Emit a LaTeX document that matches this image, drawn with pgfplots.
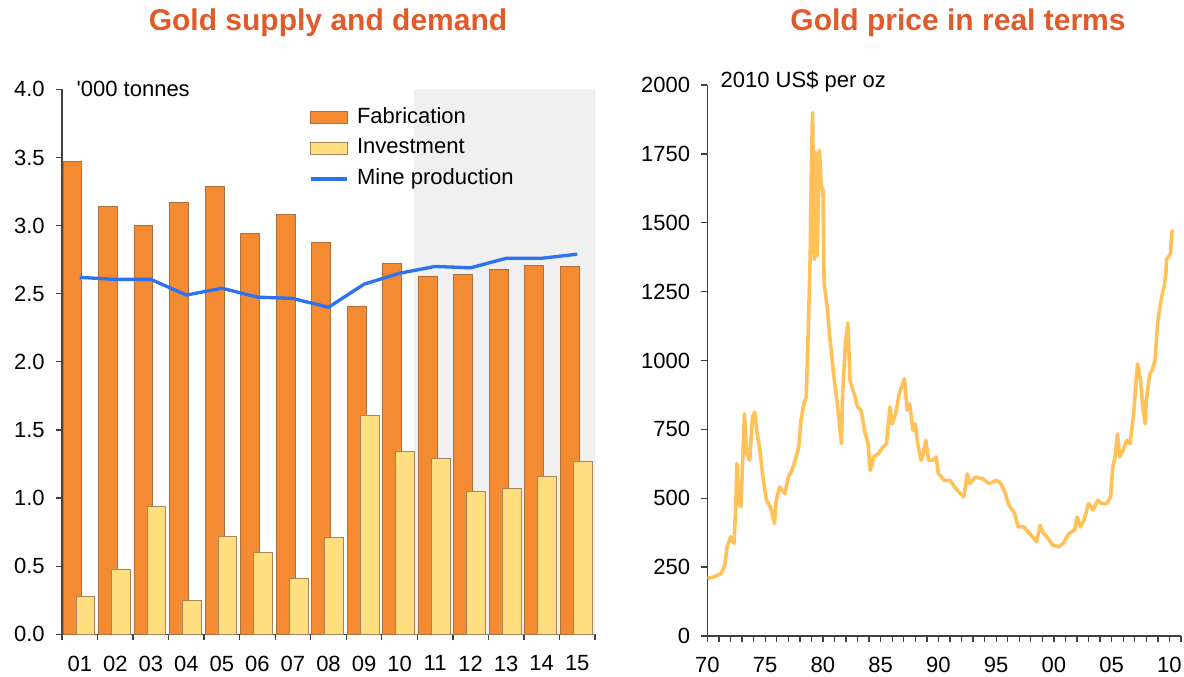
\documentclass[border=0pt]{standalone}
\usepackage{fontspec}
\setmainfont{Liberation Sans}
\usepackage{pgfplots}
\pgfplotsset{compat=1.18}
\definecolor{fab}{HTML}{F48A31}
\definecolor{fabedge}{HTML}{B0703C}
\definecolor{inv}{HTML}{FFDE80}
\definecolor{invedge}{HTML}{A8845A}
\definecolor{mine}{HTML}{2F72F0}
\definecolor{gold}{HTML}{FFC158}
\definecolor{shade}{HTML}{F0F0F0}
\definecolor{ttl}{HTML}{E05A2A}
\definecolor{axgray}{HTML}{404040}
\newcommand{\tk}{\fontsize{16.5}{19}\selectfont}

\pgfplotsset{
  common/.style={
    scale only axis, anchor=south west,
    axis x line*=bottom, axis y line*=left,
    axis line style={color=axgray, line width=1.1pt},
    tick style={color=axgray, line width=1pt},
    tick align=outside,
    major tick length=4.5pt, minor tick length=4.5pt,
    tick label style={font=\tk, text=black},
    xticklabel style={yshift=-8pt},
    yticklabel style={xshift=-5pt},
    /pgf/number format/assume math mode=true,
    clip=false,
  },
  barleg/.style={legend image code/.code={\draw[#1, line width=0.6pt] (0pt,-4.4pt) rectangle (27.5pt,4.4pt);}},
  lineleg/.style={legend image code/.code={\draw[#1] (0pt,0pt) -- (27.5pt,0pt);}},
}

\begin{document}
\begin{tikzpicture}
\useasboundingbox (0,0) rectangle (888pt,507.75pt);

% left panel: supply and demand
\begin{axis}[common,
  at={(46.5pt,32pt)}, width=399.75pt, height=408.75pt,
  xmin=0.5, xmax=15.5, ymin=0, ymax=4,
  xtick={1,...,15},
  xticklabels={01,02,03,04,05,06,07,08,09,10,11,12,13,14,15},
  major x tick style={draw=none},
  minor xtick={0.5,1.5,...,15.5},
  ytick={0,0.5,...,4},
  yticklabel style={/pgf/number format/.cd, fixed, fixed zerofill, precision=1},
  legend cell align=left,
  legend style={at={(0.463,0.97)}, anchor=north west, draw=none, fill=none,
    inner sep=0pt, row sep=5.5pt, column sep=4pt,
    nodes={inner xsep=2pt, inner ysep=1pt, text height=12pt, text depth=3.5pt, font=\tk}},
]
\addplot[fill=shade, draw=none, forget plot] coordinates
  {(10.4,0) (10.4,4) (15.5,4) (15.5,0)} \closedcycle;
\addplot[ybar, bar width=0.53, bar shift=-0.21, fill=fab, draw=fabedge, line width=0.5pt, barleg]
  coordinates {(1,3.47) (2,3.14) (3,3.00) (4,3.17) (5,3.29) (6,2.94) (7,3.08) (8,2.88)
    (9,2.41) (10,2.72) (11,2.63) (12,2.64) (13,2.68) (14,2.71) (15,2.70)};
\addlegendentry{Fabrication}
\addplot[ybar, bar width=0.53, bar shift=0.155, fill=inv, draw=invedge, line width=0.5pt, barleg]
  coordinates {(1,0.28) (2,0.48) (3,0.94) (4,0.25) (5,0.72) (6,0.60) (7,0.41) (8,0.71)
    (9,1.61) (10,1.34) (11,1.29) (12,1.05) (13,1.07) (14,1.16) (15,1.27)};
\addlegendentry{Investment}
\addplot[mine, line width=2.5pt, mark=none, lineleg]
  coordinates {(1,2.62) (2,2.605) (3,2.605) (4,2.49) (5,2.54) (6,2.475) (7,2.465) (8,2.40)
    (9,2.57) (10,2.65) (11,2.70) (12,2.69) (13,2.76) (14,2.76) (15,2.79)};
\addlegendentry{Mine production}
\node[anchor=west, font=\tk, xshift=7.5pt] at (axis cs:0.5,4) {\textquotesingle000 tonnes};
\end{axis}

% right panel: real gold price
\begin{axis}[common,
  at={(530.6pt,30.75pt)}, width=355.1pt, height=413.25pt,
  xmin=1970, xmax=2011, ymin=0, ymax=2000,
  xtick={1970,1975,...,2010},
  xticklabels={70,75,80,85,90,95,00,05,10},
  minor xtick={1970,1971,...,2011},
  ytick={0,250,...,2000},
  yticklabel style={/pgf/number format/1000 sep={}},
]
\addplot[gold, line width=2.7pt, mark=none, line join=round] coordinates {
  (1970.00,209) (1970.60,215) (1971.20,227) (1971.50,257) (1971.70,324) (1972.00,360)
  (1972.30,336) (1972.45,469) (1972.55,626) (1972.70,481) (1972.90,469) (1973.05,638)
  (1973.20,807) (1973.40,662) (1973.65,638) (1973.90,795) (1974.10,813) (1974.30,734)
  (1974.50,686) (1974.80,577) (1975.10,493) (1975.45,469) (1975.80,408) (1975.95,493)
  (1976.25,541) (1976.70,517) (1977.00,577) (1977.30,601) (1977.60,638) (1977.90,686)
  (1978.10,783) (1978.35,843) (1978.55,867) (1978.65,1000) (1978.75,1147) (1978.90,1390)
  (1979.00,1706) (1979.10,1900) (1979.25,1366) (1979.40,1755) (1979.50,1380) (1979.70,1762)
  (1979.85,1633) (1980.00,1620) (1980.10,1282) (1980.40,1184) (1980.55,1100) (1980.80,1000)
  (1980.95,940) (1981.25,843) (1981.45,758) (1981.60,698) (1981.70,879) (1981.95,1063)
  (1982.15,1136) (1982.35,928) (1982.70,879) (1983.00,831) (1983.30,819) (1983.60,746)
  (1983.90,698) (1984.10,601) (1984.40,650) (1984.80,662) (1985.20,686) (1985.50,698)
  (1985.80,831) (1986.00,770) (1986.30,807) (1986.60,879) (1986.90,915) (1987.05,934)
  (1987.30,819) (1987.50,843) (1987.80,746) (1988.00,770) (1988.20,698) (1988.50,638)
  (1988.70,662) (1988.90,710) (1989.15,638) (1989.50,638) (1989.80,650) (1990.00,589)
  (1990.50,565) (1991.00,565) (1991.40,541) (1991.90,517) (1992.20,505) (1992.50,589)
  (1992.70,553) (1993.20,577) (1993.80,571) (1994.40,553) (1995.00,565) (1995.30,559)
  (1995.70,529) (1996.10,475) (1996.60,444) (1996.90,396) (1997.40,396) (1997.90,372)
  (1998.50,342) (1998.80,402) (1999.10,372) (1999.40,360) (1999.90,330) (2000.40,324)
  (2000.80,336) (2001.30,372) (2001.80,384) (2002.00,432) (2002.30,396) (2002.60,420)
  (2003.00,481) (2003.40,457) (2003.80,493) (2004.10,481) (2004.60,481) (2004.90,505)
  (2005.10,614) (2005.30,650) (2005.50,734) (2005.70,650) (2006.00,674) (2006.30,710)
  (2006.60,698) (2006.90,807) (2007.10,915) (2007.25,988) (2007.50,928) (2007.70,831)
  (2007.90,770) (2008.00,855) (2008.30,952) (2008.50,964) (2008.75,1000) (2008.80,1027)
  (2008.95,1123) (2009.10,1172) (2009.25,1208) (2009.40,1245) (2009.55,1269) (2009.70,1318)
  (2009.75,1366) (2009.95,1378) (2010.10,1390) (2010.20,1463) (2010.30,1475)
};
\node[anchor=west, font=\tk, xshift=6.4pt, yshift=2.2pt] at (axis cs:1970,2000) {2010 US\$ per oz};
\end{axis}

\node[font=\fontsize{22.5}{26}\selectfont\bfseries, text=ttl] at (246pt,491pt) {Gold supply and demand};
\node[font=\fontsize{22.5}{26}\selectfont\bfseries, text=ttl] at (718.5pt,491pt) {Gold price in real terms};
\end{tikzpicture}
\end{document}
